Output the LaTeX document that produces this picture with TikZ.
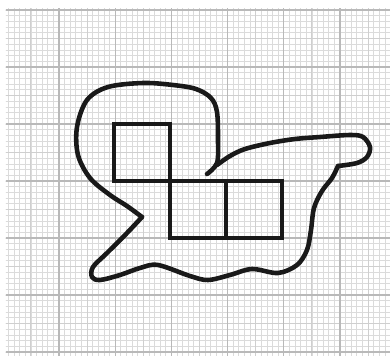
\documentclass[tikz,border=0pt]{standalone}
\begin{document}
\begin{tikzpicture}[x=0.02cm,y=-0.02cm]
\useasboundingbox[fill=white] (0,0) rectangle (390,356);
% graph paper
\begin{scope}
\clip (6,8) rectangle (390,356);
\foreach \i in {0,...,70} \draw[gray!28,line width=0.45pt] ({2.8+5.62*\i},0) -- ++(0,356);
\foreach \j in {0,...,62} \draw[gray!28,line width=0.45pt] (0,{10+5.7*\j}) -- ++(390,0);
\foreach \i in {0,...,14} \draw[gray!38,line width=0.5pt] ({2.8+28.1*\i},0) -- ++(0,356);
\foreach \j in {0,...,12} \draw[gray!38,line width=0.5pt] (0,{10+28.5*\j}) -- ++(390,0);
\foreach \i in {0,...,7} \draw[gray!55,line width=0.75pt] ({2.8+56.2*\i},0) -- ++(0,356);
\foreach \j in {0,...,6} \draw[gray!55,line width=0.75pt] (0,{10+57*\j}) -- ++(390,0);
\end{scope}
% the three cells
\foreach \x/\y in {114/124,170/181,226/181}
  \draw[line width=2.5pt,black!90] (\x,\y) rectangle ++(56,57);
% hand drawn boundary
\begin{scope}[line width=2.6pt,black!90,line cap=round,line join=round]
\draw plot[smooth,tension=0.55] coordinates {(207,174) (217,163) (218,140) (217,112) (211,98) (196,89) (173,85) (143,83) (108,87) (87,100) (77,127) (78,155) (90,178) (110,195) (127,206) (142,217)};
\draw plot[smooth,tension=0.55] coordinates {(142,217) (127,233) (107,253) (93,267) (92,277) (100,280) (120,275) (140,268) (158,265) (190,276) (208,280) (230,275) (252,269) (278,273) (297,265) (307,250) (311,230) (314,208) (322,191) (332,178) (338,166)};
\draw plot[smooth,tension=0.55] coordinates {(338,166) (357,163) (367,157) (370,147) (363,137) (350,135) (320,137) (295,139) (270,143) (245,149) (230,156) (217,165)};
\end{scope}
\end{tikzpicture}
\end{document}
